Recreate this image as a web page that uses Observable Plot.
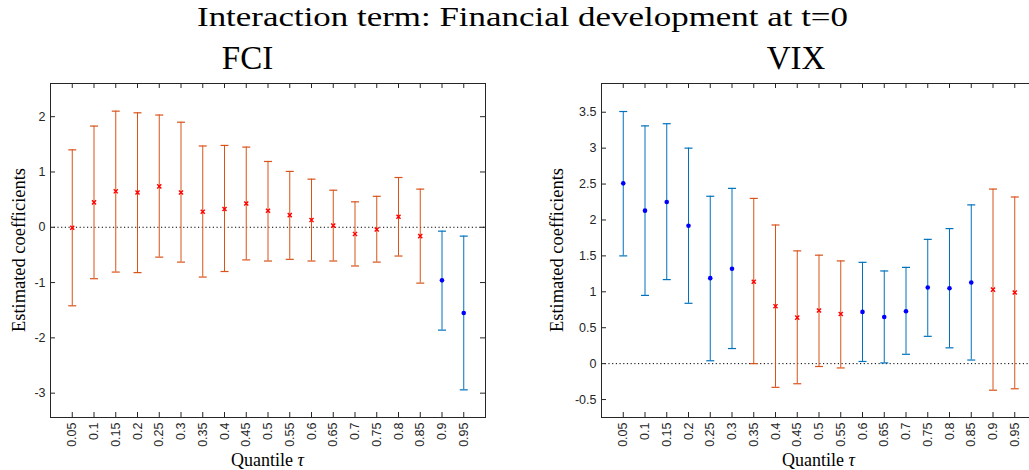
<!DOCTYPE html>
<html>
<head>
<meta charset="utf-8">
<script src="https://cdn.jsdelivr.net/npm/d3@7"></script>
<script src="https://cdn.jsdelivr.net/npm/@observablehq/plot@0.6"></script>
<style>
  html, body { margin: 0; padding: 0; background: #fff; overflow: hidden; }
  #root { position: relative; width: 1029px; height: 470px; overflow: hidden; }
  #root > svg, #root > figure { position: absolute; top: 0; margin: 0; }
</style>
</head>
<body>
<div id="root"></div>
<script>
// ---- data ----
const quantiles = [0.05, 0.1, 0.15, 0.2, 0.25, 0.3, 0.35, 0.4, 0.45, 0.5, 0.55, 0.6, 0.65, 0.7, 0.75, 0.8, 0.85, 0.9, 0.95];

const fciEst = [-0.01, 0.45, 0.65, 0.63, 0.74, 0.63, 0.28, 0.33, 0.43, 0.30, 0.22, 0.13, 0.03, -0.12, -0.04, 0.19, -0.16, -0.96, -1.55];
const fciHi  = [1.40, 1.83, 2.10, 2.07, 2.03, 1.90, 1.47, 1.48, 1.45, 1.19, 1.01, 0.87, 0.67, 0.46, 0.56, 0.90, 0.69, -0.07, -0.16];
const fciLo  = [-1.42, -0.93, -0.81, -0.82, -0.54, -0.63, -0.90, -0.80, -0.59, -0.61, -0.58, -0.61, -0.61, -0.70, -0.63, -0.52, -1.01, -1.86, -2.94];
const fciSig = [0, 0, 0, 0, 0, 0, 0, 0, 0, 0, 0, 0, 0, 0, 0, 0, 0, 1, 1];

const vixEst = [2.51, 2.13, 2.25, 1.92, 1.19, 1.32, 1.14, 0.80, 0.64, 0.74, 0.69, 0.72, 0.65, 0.73, 1.06, 1.05, 1.13, 1.03, 0.99];
const vixHi  = [3.51, 3.31, 3.34, 3.00, 2.33, 2.44, 2.30, 1.93, 1.57, 1.51, 1.43, 1.41, 1.29, 1.34, 1.73, 1.88, 2.21, 2.43, 2.32];
const vixLo  = [1.50, 0.95, 1.17, 0.84, 0.04, 0.21, 0.00, -0.33, -0.28, -0.04, -0.06, 0.03, 0.01, 0.13, 0.38, 0.22, 0.05, -0.37, -0.35];
const vixSig = [1, 1, 1, 1, 1, 1, 0, 0, 0, 0, 0, 1, 1, 1, 1, 1, 1, 0, 0];

const fciTicks = [-3, -2, -1, 0, 1, 2];
const vixTicks = [-0.5, 0, 0.5, 1, 1.5, 2, 2.5, 3, 3.5];

const mainTitle = "Interaction term: Financial development at t=0";
const panelTitles = ["FCI", "VIX"];
const yLabel = "Estimated coefficients";
const xLabel = "Quantile ";
const xLabelSym = "τ";

// ---- style ----
const BLUE = "#0072BD", ORANGE = "#D95319", AXIS = "#262626";
const PW = 435, PH = 334; // plot area size

const capSymbol = {
  draw(ctx, size) {
    const w = Math.sqrt(size / Math.PI);
    ctx.moveTo(-w, 0);
    ctx.lineTo(w, 0);
  }
};

function panel({est, lo, hi, sig, yDomain, yTicks, width, marginLeft, marginRight}) {
  const rows = quantiles.map((q, i) => ({q, est: est[i], lo: lo[i], hi: hi[i], sig: !!sig[i]}));
  const col = d => d.sig ? BLUE : ORANGE;
  return Plot.plot({
    width, height: 470,
    marginLeft, marginRight, marginTop: 83, marginBottom: 53,
    x: {domain: [0, 1]},
    y: {domain: yDomain},
    color: {type: "identity"},
    style: {fontFamily: "'Liberation Sans', Arial, sans-serif", fontSize: "12.5px", color: AXIS, background: "transparent", overflow: "visible"},
    marks: [
      Plot.ruleY([0], {stroke: "#000", strokeWidth: 1, strokeDasharray: "1.2,2.5"}),
      Plot.ruleX(rows, {x: "q", y1: "lo", y2: "hi", stroke: col, strokeWidth: 1}),
      Plot.dot(rows, {x: "q", y: "lo", symbol: capSymbol, r: 4, stroke: col, fill: "none", strokeWidth: 1.2}),
      Plot.dot(rows, {x: "q", y: "hi", symbol: capSymbol, r: 4, stroke: col, fill: "none", strokeWidth: 1.2}),
      Plot.dot(rows.filter(d => d.sig), {x: "q", y: "est", r: 2.3, fill: "#0000FF", stroke: "none"}),
      Plot.dot(rows.filter(d => !d.sig), {x: "q", y: "est", symbol: "times", r: 2.0, stroke: "#FF0000", strokeWidth: 1.4}),
      Plot.frame({stroke: AXIS, strokeWidth: 1}),
      Plot.tickX(quantiles, {x: d => d, insetTop: PH - 5, stroke: AXIS}),
      Plot.tickX(quantiles, {x: d => d, insetBottom: PH - 5, stroke: AXIS}),
      Plot.tickY(yTicks, {y: d => d, insetRight: PW - 5, stroke: AXIS}),
      Plot.tickY(yTicks, {y: d => d, insetLeft: PW - 5, stroke: AXIS}),
      Plot.axisX(quantiles, {tickSize: 0, tickPadding: 5, tickRotate: -90, tickFormat: d => String(d), label: null, fill: AXIS}),
      Plot.axisY(yTicks, {tickSize: 0, tickPadding: 5, tickFormat: d => String(d), label: null, fill: AXIS})
    ]
  });
}

const root = document.getElementById("root");

const left = panel({est: fciEst, lo: fciLo, hi: fciHi, sig: fciSig, yDomain: [-3.44, 2.6], yTicks: fciTicks,
  width: 514, marginLeft: 50, marginRight: 29});
left.style.left = "0px";
root.appendChild(left);

const right = panel({est: vixEst, lo: vixLo, hi: vixHi, sig: vixSig, yDomain: [-0.75, 3.9], yTicks: vixTicks,
  width: 500, marginLeft: 61, marginRight: 4});
right.style.left = "540px";
root.appendChild(right);

// ---- titles & axis labels overlay ----
const ov = d3.select(root).append("svg")
  .attr("width", 1029).attr("height", 470)
  .style("left", "0px").style("pointer-events", "none")
  .style("font-family", "'Liberation Serif', 'Times New Roman', serif")
  .attr("fill", "#000");

ov.append("text").attr("x", 197).attr("y", 26).attr("font-size", 28)
  .attr("textLength", 651).attr("lengthAdjust", "spacingAndGlyphs").text(mainTitle);

const panels = [{tx: 247.5, cx: 267.5, ylx: 25}, {tx: 796, cx: 818.5, ylx: 563}];
panels.forEach((p, i) => {
  ov.append("text").attr("x", p.tx).attr("y", 69).attr("font-size", 33)
    .attr("text-anchor", "middle").text(panelTitles[i]);
  const xl = ov.append("text").attr("x", p.cx).attr("y", 466).attr("font-size", 18)
    .attr("text-anchor", "middle");
  xl.append("tspan").text(xLabel);
  xl.append("tspan").attr("font-style", "italic").text(xLabelSym);
  ov.append("text").attr("transform", `translate(${p.ylx},250) rotate(-90)`)
    .attr("font-size", 18).attr("text-anchor", "middle")
    .attr("textLength", 164).attr("lengthAdjust", "spacingAndGlyphs").text(yLabel);
});
</script>
</body>
</html>
